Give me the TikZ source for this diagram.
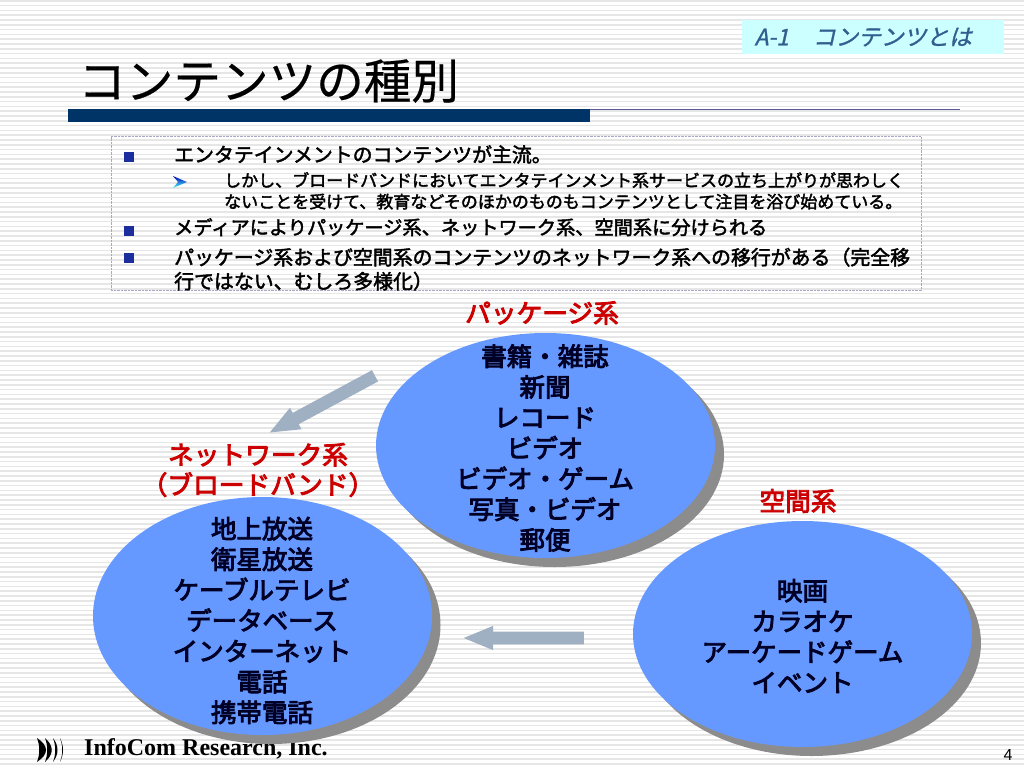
\documentclass[tikz,border=0pt]{standalone}
\usepackage{fontspec}
\setmainfont{Noto Sans CJK JP}
\newfontfamily\tagfont[FakeSlant=0.22,FakeBold=1.2]{Noto Sans CJK JP}
\newfontfamily\midfont[FakeBold=2.2]{Noto Sans CJK JP}
\newfontfamily\heavyfont[FakeBold=3.5]{Noto Sans CJK JP}
\newfontfamily\titlefont[FakeBold=0.4]{Noto Sans CJK JP}
\newfontfamily\latinserif{Liberation Serif}
\newfontfamily\latinsans{Liberation Sans}
\usetikzlibrary{shapes.geometric, shapes.arrows, positioning}
\definecolor{ovalblue}{HTML}{6699FF}
\definecolor{ovalshade}{HTML}{8C8C8C}
\definecolor{arrowgrey}{HTML}{9FB0C2}
\definecolor{barnavy}{HTML}{003366}
\definecolor{barthin}{HTML}{5A5A96}
\definecolor{bulletblue}{HTML}{1C2E9E}
\definecolor{labelred}{HTML}{CC0000}
\definecolor{tagcyan}{HTML}{CCFFFF}
\definecolor{tagtext}{HTML}{2F5F8F}
\definecolor{stripegrey}{HTML}{E6E6E6}
\definecolor{boxline}{HTML}{A8A8C8}
\begin{document}
\begin{tikzpicture}[
			x=1pt, y=-1pt,
			oval/.style={ellipse, fill=ovalblue, minimum width=339pt, minimum height=#1, inner sep=0pt},
			ovalshadow/.style={ellipse, fill=ovalshade, minimum width=339pt, minimum height=#1, inner sep=0pt},
			ovaltext/.style={inner sep=0pt, align=center, text=black!85!blue, font=\fontsize{25.5}{30.6}\selectfont\heavyfont},
			grouplabel/.style={text=labelred, align=center, inner sep=0pt, font=\fontsize{25.7}{30}\selectfont\heavyfont},
			bigarrow/.style={single arrow, fill=arrowgrey, inner sep=0pt, inner ysep=6.2pt, minimum height=#1, minimum width=24pt, single arrow tip angle=45, single arrow head extend=5.8pt, single arrow head indent=0pt, shape border rotate=180},
			bullet/.style={fill=bulletblue, minimum size=10pt, inner sep=0pt},
			itemtext/.style={anchor=north west, inner sep=0pt, align=left, font=\fontsize{19.9}{24}\selectfont\midfont},
			]
			
			% Background
			\fill[white] (0,0) rectangle (1024,768);
			\foreach \y in {0,4.8,...,768} \fill[stripegrey] (0,\y) rectangle (1024,\y+1.6);
			\useasboundingbox (0,0) rectangle (1024,768);
			
			% Header
			\node (tag) [fill=tagcyan, minimum width=262pt, minimum height=34pt] at (873,37) {};
			\node (tagtitle) [anchor=east, inner sep=0pt, text=tagtext, font=\fontsize{22.7}{22.7}\selectfont\tagfont] at (972,37) {A-1\hspace{24pt}コンテンツとは};
			\node (title) [anchor=west, inner sep=0pt, font=\fontsize{47.6}{47.6}\selectfont\titlefont] at (78,81) {コンテンツの種別};
			\fill[barnavy] (68,109) rectangle (590,122);
			\fill[barthin] (590,108.5) rectangle (960,110);
			
			% Bullet box
			\node (box) [draw=boxline, densely dotted, minimum width=810pt, minimum height=154pt, inner sep=0pt] at (516,213.5) {};
			\node (b1) [bullet] at (129,157) {};
			\node (b2) [bullet] at (129,231) {};
			\node (b3) [bullet] at (129,258) {};
			\shade[top color=blue!70!black, bottom color=cyan!70] (173,176) -- (187,182) -- (173,188) -- (178,182) -- cycle;
			\node (t1) [itemtext] at (174,145) {エンタテインメントのコンテンツが主流。};
			\node (t2) [itemtext, font=\fontsize{17}{21.3}\selectfont\midfont] at (224,172) {しかし、ブロードバンドにおいてエンタテインメント系サービスの立ち上がりが思わしく\\ないことを受けて、教育などそのほかのものもコンテンツとして注目を浴び始めている。};
			\node (t3) [itemtext, font=\fontsize{19.2}{24}\selectfont\midfont] at (174,218) {メディアによりパッケージ系、ネットワーク系、空間系に分けられる};
			\node (t4) [itemtext] at (174,247.5) {パッケージ系および空間系のコンテンツのネットワーク系への移行がある（完全移\\行ではない、むしろ多様化）};
			
			% Footer
			\foreach \x/\w in {37/9, 45/6, 53/3, 60/1} \fill[black] (\x,738) .. controls (\x+\w+3,746) and (\x+\w+3,754) .. (\x,762) .. controls (\x+3,754) and (\x+3,746) .. (\x,738);
			\node (company) [anchor=west, inner sep=0pt, font=\fontsize{24}{24}\selectfont\latinserif\bfseries] at (84,749) {InfoCom Research, Inc.};
			\node (page) [inner sep=0pt, font=\fontsize{16}{16}\selectfont\latinsans] at (1008,755) {4};
			
			% Ovals
			\node (pkgshadow) [ovalshadow=225pt] at (554.5,454.5) {};
			\node (netshadow) [ovalshadow=238pt] at (271,625) {};
			\node (spaceshadow) [ovalshadow=226pt] at (811.5,643) {};
			\node (pkg) [oval=225pt] at (545.5,445.5) {};
			\node (net) [oval=238pt] at (262.5,616) {};
			\node (space) [oval=226pt] at (802.5,634) {};
			\node (pkgtext) [ovaltext] at (545,448) {書籍・雑誌\\新聞\\レコード\\ビデオ\\ビデオ・ゲーム\\写真・ビデオ\\郵便};
			\node (nettext) [ovaltext] at (262,620.5) {地上放送\\衛星放送\\ケーブルテレビ\\データベース\\インターネット\\電話\\携帯電話};
			\node (spacetext) [ovaltext] at (802.5,636) {映画\\カラオケ\\アーケードゲーム\\イベント};
			
			% Labels
			\node (pkglabel) [grouplabel] at (542,313) {パッケージ系};
			\node (netlabel) [grouplabel] at (258,470) {ネットワーク系\\（ブロードバンド）};
			\node (spacelabel) [grouplabel] at (798,501) {空間系};
			
			% Arrows
			\node (arrowa) [bigarrow=119.5pt, rotate=28.3] at (329.2,400.5) {};
			\node (arrowb) [bigarrow=120pt] at (531.5,638) {};
		\end{tikzpicture}
\end{document}
